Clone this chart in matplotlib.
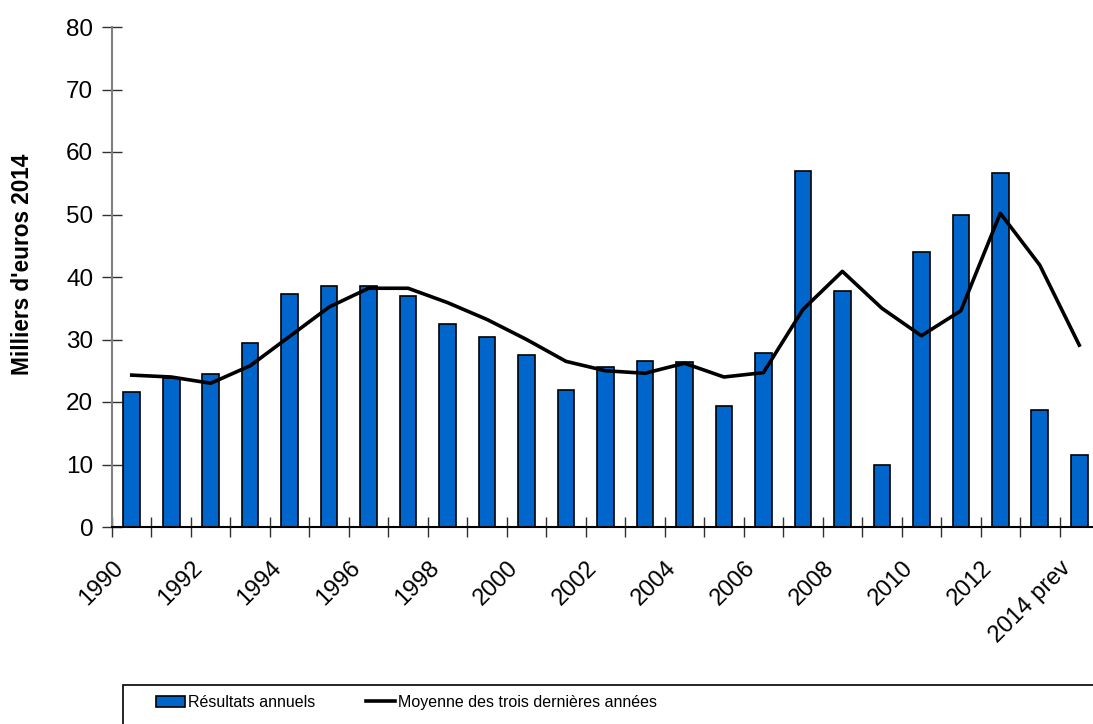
"""Résultats annuels et moyenne sur trois ans"""

import matplotlib.pyplot as plt
import numpy as np
from matplotlib.patches import Rectangle

plt.rcParams["font.family"] = ["Liberation Sans", "DejaVu Sans"]

# Data
years = [str(y) for y in range(1990, 2014)] + ["2014 prev"]
annual = [21.6, 23.8, 24.5, 29.4, 37.3, 38.5, 38.5, 37.0, 32.5, 30.4,
          27.6, 21.9, 25.6, 26.6, 26.4, 19.4, 27.8, 56.9, 37.8, 10.0,
          44.0, 49.9, 56.6, 18.7, 11.5]
avg3 = [24.3, 24.0, 23.0, 25.8, 30.5, 35.2, 38.2, 38.2, 35.9, 33.2,
        30.0, 26.5, 25.0, 24.6, 26.2, 24.0, 24.7, 34.8, 40.9, 35.0,
        30.6, 34.6, 50.2, 41.9, 29.1]
label_years = ["1990", "1992", "1994", "1996", "1998", "2000", "2002",
               "2004", "2006", "2008", "2010", "2012", "2014 prev"]

x = np.arange(len(years))

fig = plt.figure(figsize=(10.93, 7.24), dpi=100)
ax = fig.add_axes([112 / 1093, 1 - 527 / 724, 987 / 1093, 500 / 724])

bars = ax.bar(x, annual, width=0.42, color="#0066CC", edgecolor="black",
              linewidth=1.2, label="Résultats annuels", zorder=2)
line, = ax.plot(x, avg3, color="black", linewidth=2.6,
                label="Moyenne des trois dernières années", zorder=3)

ax.set_xlim(-0.5, len(years) - 0.5)
ax.set_ylim(0, 80)
ax.set_yticks(range(0, 81, 10))

# Category boundaries get the tick marks, labels sit at every other centre
# (nudged a little left, like the original)
ax.set_xticks(x[::2] - 0.3)
ax.set_xticklabels(label_years, rotation=45, ha="right", va="center",
                   rotation_mode="anchor", fontsize=17)
ax.set_xticks(np.arange(-0.5, len(years), 1), minor=True)
ax.tick_params(axis="x", which="major", length=0, pad=27)
ax.tick_params(axis="x", which="minor", direction="inout", length=15,
               width=1, color="#303030")
ax.tick_params(axis="y", direction="inout", length=15, width=1,
               color="#303030", labelsize=17.5, pad=6)

ax.spines["top"].set_visible(False)
ax.spines["right"].set_visible(False)
ax.spines["left"].set_color("#808080")
ax.spines["left"].set_linewidth(1.5)
ax.spines["bottom"].set_color("black")
ax.spines["bottom"].set_linewidth(1.5)

fig.text(23 / 1093, 1 - 264 / 724, "Milliers d'euros 2014", rotation=90,
         fontsize=16.3, fontweight="bold", ha="center", va="center")

# Legend (frame drawn separately, it runs off the picture)
fig.patches.append(Rectangle((123 / 1093, -0.05), 1.0, 1 - 685 / 724 + 0.05,
                             transform=fig.transFigure, fill=False,
                             edgecolor="black", linewidth=1.2))
fig.legend([bars, line],
           ["Résultats annuels", "Moyenne des trois dernières années"],
           loc="upper left", bbox_to_anchor=(156 / 1093, 1 - 695 / 724),
           ncol=2, frameon=False, borderaxespad=0, borderpad=0,
           handlelength=1.8, handletextpad=0.2, columnspacing=3.2,
           fontsize=11.5)

fig.savefig("out.png", dpi=100)
